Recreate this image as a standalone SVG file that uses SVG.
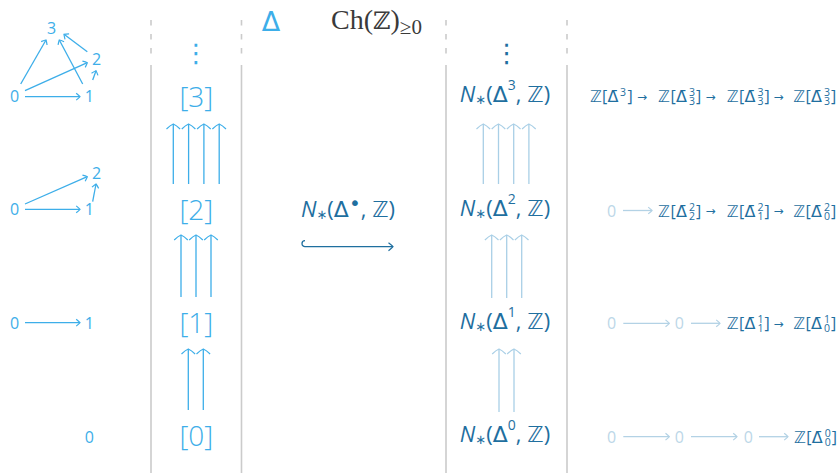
<svg xmlns="http://www.w3.org/2000/svg" width="839" height="473" viewBox="0 0 839 473">
  <style>
    text { font-family: "Open Sans", "Noto Sans", "DejaVu Sans", sans-serif; }
    .lb { fill: #3daee9; }
    .db { fill: #1f6f9f; }
    .fd { fill: #bcd7e8; }
    .zz { font-family: "DejaVu Sans", sans-serif; }
    .dig { font-size: 16px; }
    .br { font-size: 28px; font-weight: 300; text-anchor: middle; }
    .nn { font-size: 22px; text-anchor: middle; }
    .ch { font-size: 16px; }
    .sc { font-size: 10.5px; }
    .ar { font-family: "DejaVu Sans", sans-serif; font-size: 12px; }
    .div { stroke: #cbcbcb; stroke-width: 1.6; fill: none; }
    .dash { stroke-dasharray: 5.5 8.5; }
    .cl { stroke: #3daee9; stroke-width: 1.3; fill: none; }
    .cf { stroke: #a9cfe6; stroke-width: 1.3; fill: none; }
    .cz { stroke: #b3d2e5; stroke-width: 1.3; fill: none; }
    .cd { stroke: #1f6f9f; stroke-width: 1.3; fill: none; }
  </style>
  <defs>
    <marker id="hL" markerUnits="userSpaceOnUse" viewBox="-10 -10 20 20" markerWidth="20" markerHeight="20" refX="0" refY="0" orient="auto" overflow="visible">
      <path d="M-5,-6.8 Q-1.2,-3 0,0 Q-1.2,3 -5,6.8" fill="none" stroke="#3daee9" stroke-width="1.2"/>
    </marker>
    <marker id="hF" markerUnits="userSpaceOnUse" viewBox="-10 -10 20 20" markerWidth="20" markerHeight="20" refX="0" refY="0" orient="auto" overflow="visible">
      <path d="M-5,-6.8 Q-1.2,-3 0,0 Q-1.2,3 -5,6.8" fill="none" stroke="#a9cfe6" stroke-width="1.2"/>
    </marker>
    <marker id="hS" markerUnits="userSpaceOnUse" viewBox="-10 -10 20 20" markerWidth="20" markerHeight="20" refX="0" refY="0" orient="auto" overflow="visible">
      <path d="M-3.8,-3.4 Q-1,-1.2 0,0 Q-1,1.2 -3.8,3.4" fill="none" stroke="#3daee9" stroke-width="1.2"/>
    </marker>
    <marker id="hZ" markerUnits="userSpaceOnUse" viewBox="-10 -10 20 20" markerWidth="20" markerHeight="20" refX="0" refY="0" orient="auto" overflow="visible">
      <path d="M-3.8,-3.4 Q-1,-1.2 0,0 Q-1,1.2 -3.8,3.4" fill="none" stroke="#b3d2e5" stroke-width="1.2"/>
    </marker>
    <marker id="hD" markerUnits="userSpaceOnUse" viewBox="-10 -10 20 20" markerWidth="20" markerHeight="20" refX="0" refY="0" orient="auto" overflow="visible">
      <path d="M-4.5,-4 Q-1,-1.3 0,0 Q-1,1.3 -4.5,4" fill="none" stroke="#1f6f9f" stroke-width="1.2"/>
    </marker>
  </defs>

  <!-- column dividers: dashed above, solid below -->
  <g id="dividers">
    <path class="div dash" d="M151,20 V60 M241.5,20 V60 M446,20 V60 M567,20 V60"/>
    <path class="div" d="M151,65 V473 M241.5,65 V473 M446,65 V473 M567,65 V473"/>
  </g>

  <!-- headers -->
  <g id="header-delta">
    <text class="lb zz" x="271" y="30.5" font-size="27" text-anchor="middle">Δ</text>
  </g>
  <g id="header-ch">
    <text x="331" y="29" font-size="28" fill="#3a3a3a" style="font-family:'Liberation Serif','DejaVu Serif',serif">Ch(<tspan style="font-family:'DejaVu Serif',serif" font-size="24">ℤ</tspan>)<tspan font-size="21" dy="5">≥0</tspan></text>
  </g>

  <!-- simplices drawn as small graphs -->
  <g id="simplex-3" class="lb dig">
    <text x="51.7" y="33.7" text-anchor="middle">3</text>
    <text x="96.7" y="64.7" text-anchor="middle">2</text>
    <text x="14.5" y="102" text-anchor="middle">0</text>
    <text x="89.3" y="102" text-anchor="middle">1</text>
  </g>
  <g id="simplex-2" class="lb dig">
    <text x="96.7" y="179.3" text-anchor="middle">2</text>
    <text x="14.5" y="215" text-anchor="middle">0</text>
    <text x="89.3" y="215" text-anchor="middle">1</text>
  </g>
  <g id="simplex-1" class="lb dig">
    <text x="14.5" y="329" text-anchor="middle">0</text>
    <text x="89.3" y="329" text-anchor="middle">1</text>
  </g>
  <g id="simplex-0" class="lb dig">
    <text x="89.3" y="442.7" text-anchor="middle">0</text>
  </g>

  <!-- ordinals [n] -->
  <g id="vdots-ord"><text class="lb" x="196" y="62" font-size="26" text-anchor="middle">⋮</text></g>
  <g id="ord-3"><text class="lb br" x="196.3" y="106.5">[3]</text></g>
  <g id="ord-2"><text class="lb br" x="196.3" y="219.5">[2]</text></g>
  <g id="ord-1"><text class="lb br" x="196.3" y="332.5">[1]</text></g>
  <g id="ord-0"><text class="lb br" x="196.3" y="445.8">[0]</text></g>

  <!-- normalized chain functor -->
  <g id="functor">
    <text class="db nn" x="348" y="217"><tspan font-style="italic">N</tspan><tspan class="zz" font-size="13" dy="2">∗</tspan><tspan dy="-2">(</tspan><tspan class="zz">Δ</tspan><tspan class="zz" font-size="20" dy="-7">•</tspan><tspan dy="7">, </tspan><tspan class="zz">ℤ</tspan>)</text>
  </g>

  <!-- N_*(Δ^n, Z) column -->
  <g id="vdots-n"><text class="db" x="506.7" y="62" font-size="26" text-anchor="middle">⋮</text></g>
  <g id="n-3"><text class="db nn" x="505" y="102"><tspan font-style="italic">N</tspan><tspan class="zz" font-size="13" dy="2">∗</tspan><tspan dy="-2">(</tspan><tspan class="zz">Δ</tspan><tspan font-size="14" dy="-12">3</tspan><tspan dy="12">, </tspan><tspan class="zz">ℤ</tspan>)</text></g>
  <g id="n-2"><text class="db nn" x="505" y="215.5"><tspan font-style="italic">N</tspan><tspan class="zz" font-size="13" dy="2">∗</tspan><tspan dy="-2">(</tspan><tspan class="zz">Δ</tspan><tspan font-size="14" dy="-12">2</tspan><tspan dy="12">, </tspan><tspan class="zz">ℤ</tspan>)</text></g>
  <g id="n-1"><text class="db nn" x="505" y="328.5"><tspan font-style="italic">N</tspan><tspan class="zz" font-size="13" dy="2">∗</tspan><tspan dy="-2">(</tspan><tspan class="zz">Δ</tspan><tspan font-size="14" dy="-12">1</tspan><tspan dy="12">, </tspan><tspan class="zz">ℤ</tspan>)</text></g>
  <g id="n-0"><text class="db nn" x="505" y="442"><tspan font-style="italic">N</tspan><tspan class="zz" font-size="13" dy="2">∗</tspan><tspan dy="-2">(</tspan><tspan class="zz">Δ</tspan><tspan font-size="14" dy="-12">0</tspan><tspan dy="12">, </tspan><tspan class="zz">ℤ</tspan>)</text></g>

  <!-- explicit chain complexes -->
  <g id="chain-3" class="db ch">
    <text y="102"><tspan class="zz" x="590">ℤ</tspan><tspan x="602">[</tspan><tspan class="zz" x="607.5">Δ̄</tspan><tspan class="sc" x="620" dy="-6">3</tspan><tspan x="627.5" dy="6">]</tspan></text>
    <text class="ar" x="637" y="100.5">→</text>
    <text y="102"><tspan class="zz" x="658">ℤ</tspan><tspan x="670.5">[</tspan><tspan class="zz" x="676">Δ̄</tspan><tspan class="sc" x="689" dy="-6">3</tspan><tspan class="sc" x="689" dy="9">3</tspan><tspan x="696" dy="-3">]</tspan></text>
    <text class="ar" x="705.5" y="100.5">→</text>
    <text y="102"><tspan class="zz" x="726.7">ℤ</tspan><tspan x="739">[</tspan><tspan class="zz" x="744.5">Δ̄</tspan><tspan class="sc" x="757.5" dy="-6">3</tspan><tspan class="sc" x="757.5" dy="9">3</tspan><tspan x="764.5" dy="-3">]</tspan></text>
    <text class="ar" x="773.5" y="100.5">→</text>
    <text y="102"><tspan class="zz" x="793.3">ℤ</tspan><tspan x="805.5">[</tspan><tspan class="zz" x="811">Δ̄</tspan><tspan class="sc" x="824" dy="-6">3</tspan><tspan class="sc" x="824" dy="9">3</tspan><tspan x="831" dy="-3">]</tspan></text>
  </g>
  <g id="chain-2" class="ch">
    <text class="fd" x="611.7" y="216.5" text-anchor="middle">0</text>
    <text class="db" y="216.5"><tspan class="zz" x="658">ℤ</tspan><tspan x="670.5">[</tspan><tspan class="zz" x="676">Δ̄</tspan><tspan class="sc" x="689" dy="-6">2</tspan><tspan class="sc" x="689" dy="9">2</tspan><tspan x="696" dy="-3">]</tspan></text>
    <text class="db ar" x="705.5" y="215">→</text>
    <text class="db" y="216.5"><tspan class="zz" x="726.7">ℤ</tspan><tspan x="739">[</tspan><tspan class="zz" x="744.5">Δ̄</tspan><tspan class="sc" x="757.5" dy="-6">2</tspan><tspan class="sc" x="757.5" dy="9">1</tspan><tspan x="764.5" dy="-3">]</tspan></text>
    <text class="db ar" x="773.5" y="215">→</text>
    <text class="db" y="216.5"><tspan class="zz" x="793.3">ℤ</tspan><tspan x="805.5">[</tspan><tspan class="zz" x="811">Δ̄</tspan><tspan class="sc" x="824" dy="-6">2</tspan><tspan class="sc" x="824" dy="9">0</tspan><tspan x="831" dy="-3">]</tspan></text>
  </g>
  <g id="chain-1" class="ch">
    <text class="fd" x="611.7" y="329.3" text-anchor="middle">0</text>
    <text class="fd" x="679.3" y="329.3" text-anchor="middle">0</text>
    <text class="db" y="329.3"><tspan class="zz" x="726.7">ℤ</tspan><tspan x="739">[</tspan><tspan class="zz" x="744.5">Δ̄</tspan><tspan class="sc" x="757.5" dy="-6">1</tspan><tspan class="sc" x="757.5" dy="9">1</tspan><tspan x="764.5" dy="-3">]</tspan></text>
    <text class="db ar" x="773.5" y="327.8">→</text>
    <text class="db" y="329.3"><tspan class="zz" x="793.3">ℤ</tspan><tspan x="805.5">[</tspan><tspan class="zz" x="811">Δ̄</tspan><tspan class="sc" x="824" dy="-6">1</tspan><tspan class="sc" x="824" dy="9">0</tspan><tspan x="831" dy="-3">]</tspan></text>
  </g>
  <g id="chain-0" class="ch">
    <text class="fd" x="611.7" y="442.7" text-anchor="middle">0</text>
    <text class="fd" x="679.3" y="442.7" text-anchor="middle">0</text>
    <text class="fd" x="748.3" y="442.7" text-anchor="middle">0</text>
    <text class="db" y="442.7"><tspan class="zz" x="794">ℤ</tspan><tspan x="806.2">[</tspan><tspan class="zz" x="811.7">Δ̄</tspan><tspan class="sc" x="824.7" dy="-6">0</tspan><tspan class="sc" x="824.7" dy="9">0</tspan><tspan x="831.7" dy="-3">]</tspan></text>
  </g>

  <g id="connectors">
    <!-- face maps inside the simplices -->
    <g marker-end="url(#hS)" class="cl">
      <path d="M25,96.7 L80,96.7"/>
      <path d="M20.7,84 L46,40"/>
      <path d="M25,90.7 L87.3,62.7"/>
      <path d="M82.7,84 L59.3,40"/>
      <path d="M87.3,51.7 L64,34.3"/>
      <path d="M92.7,80 L96,70.7"/>
      <path d="M25,204 L87.3,176.7"/>
      <path d="M25,209.3 L80,209.3"/>
      <path d="M92.7,201.7 L96,184"/>
      <path d="M25,322.7 L80,322.7"/>
    </g>
    <!-- coface maps between ordinals -->
    <g marker-end="url(#hL)" class="cl">
      <path d="M173.3,184 V124"/>
      <path d="M188.6,184 V124"/>
      <path d="M203.9,184 V124"/>
      <path d="M219.2,184 V124"/>
      <path d="M181,297 V235"/>
      <path d="M196,297 V235"/>
      <path d="M211,297 V235"/>
      <path d="M188.3,410 V349"/>
      <path d="M203.3,410 V349"/>
    </g>
    <!-- induced chain maps -->
    <g marker-end="url(#hF)" class="cf">
      <path d="M483.3,184 V124"/>
      <path d="M498.5,184 V124"/>
      <path d="M513.7,184 V124"/>
      <path d="M528.9,184 V124"/>
      <path d="M491.7,298 V235"/>
      <path d="M506.7,298 V235"/>
      <path d="M521.7,298 V235"/>
      <path d="M499,412 V349"/>
      <path d="M514,412 V349"/>
    </g>
    <!-- inclusion -->
    <path class="cd" marker-end="url(#hD)" d="M305,240.7 A3,3 0 0 0 305,246.7 L393,246.7"/>
    <!-- zero maps in the chain complexes -->
    <g marker-end="url(#hZ)" class="cz">
      <path d="M623,210.5 H652"/>
      <path d="M623.3,323.3 H669.3"/>
      <path d="M691,323.3 H720"/>
      <path d="M623.3,436.7 H669.3"/>
      <path d="M691,436.7 H737"/>
      <path d="M759,436.7 H788"/>
    </g>
  </g>
</svg>
